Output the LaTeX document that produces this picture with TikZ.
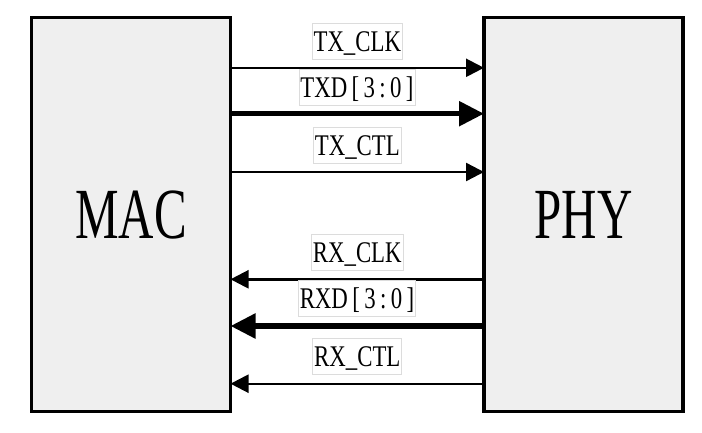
\documentclass[tikz,border=0pt]{standalone}
\usepackage{fontspec}
\usetikzlibrary{arrows.meta}
\newfontfamily\blockfont[FakeStretch=0.68]{Liberation Serif}
\newfontfamily\signalfont[FakeStretch=0.76]{Liberation Serif}
\definecolor{blockgray}{HTML}{EFEFEF}
\definecolor{tagline}{HTML}{DCDCDC}
% bus index written with half-width spacing
\newcommand\busidx{\kern4.4pt[\kern4.4pt3\kern4.4pt:\kern4.4pt0\kern4.4pt]}
\begin{document}
\begin{tikzpicture}[x=1pt,y=-1pt,
  block/.style={draw, line width=3.3pt, fill=blockgray, minimum width=199pt,
    minimum height=394pt, inner sep=0pt, outer sep=0pt,
    font=\blockfont\fontsize{72}{72}\selectfont},
  tag/.style={draw=tagline, line width=0.8pt, fill=white, inner xsep=1.5pt,
    inner ysep=0pt, minimum height=36pt, text height=19.9pt, text depth=0pt,
    font=\signalfont\fontsize{30}{30}\selectfont},
  thinsig/.style={line width=2.4pt, -{Triangle[length=18pt,width=18pt]}},
  thicksig/.style={line width=5.4pt, -{Triangle[length=25pt,width=24pt]}}]
\useasboundingbox (0,0) rectangle (702,433);

% the two blocks
\node[block] (mac) at (131,214.8) {MAC};
\node[block] (phy) at (583.5,214.8) {PHY};

% rows of the signal lines
\coordinate (r1) at (0,67.8);
\coordinate (r2) at (0,113.7);
\coordinate (r3) at (0,172);
\coordinate (r4) at (0,279.3);
\coordinate (r5) at (0,326);
\coordinate (r6) at (0,383.7);

% transmit side
\draw[thinsig]  (mac.east |- r1) -- (phy.west |- r1);
\draw[thicksig] (mac.east |- r2) -- (phy.west |- r2);
\draw[thinsig]  (mac.east |- r3) -- (phy.west |- r3);
% receive side
\draw[thinsig]  (phy.west |- r4) -- (mac.east |- r4);
\draw[thicksig] (phy.west |- r5) -- (mac.east |- r5);
\draw[thinsig]  (phy.west |- r6) -- (mac.east |- r6);

% signal names
\node[tag] (txclk) at (357.3,41.3) {TX\_CLK};
\node[tag] (txd)   at (357,87.2)   {TXD\busidx};
\node[tag] (txctl) at (357.3,145.3) {TX\_CTL};
\node[tag] (rxclk) at (357.3,252.5) {RX\_CLK};
\node[tag] (rxd)   at (357,298.7)  {RXD\busidx};
\node[tag] (rxctl) at (357.3,356.7) {RX\_CTL};
\end{tikzpicture}
\end{document}
